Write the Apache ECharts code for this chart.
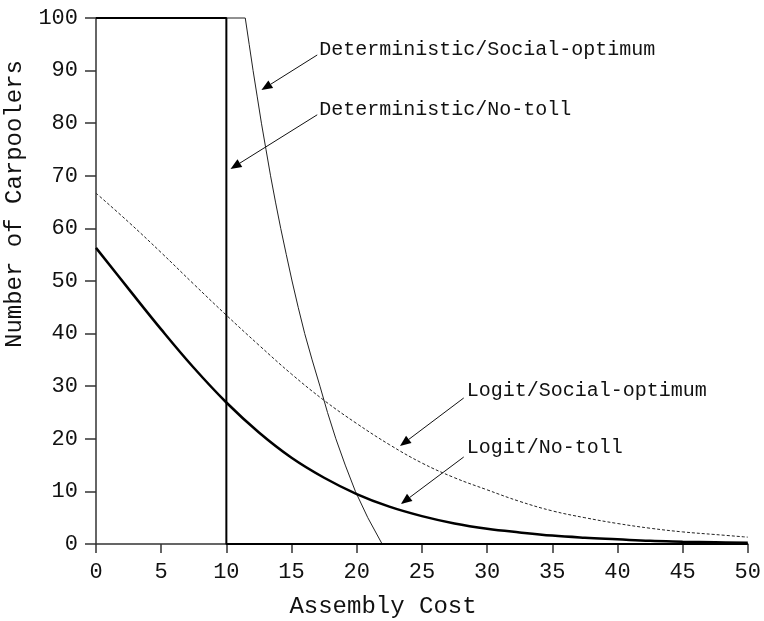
<!DOCTYPE html>
<html>
<head>
<meta charset="utf-8">
<script src="https://cdn.jsdelivr.net/npm/echarts@6/dist/echarts.min.js"></script>
<style>
html,body{margin:0;padding:0;background:#fff;}
#chart{width:764px;height:621px;}
</style>
</head>
<body>
<div id="chart"></div>
<script>
// ---- data ----
const xTicks = [0, 5, 10, 15, 20, 25, 30, 35, 40, 45, 50];
const yTicks = [0, 10, 20, 30, 40, 50, 60, 70, 80, 90, 100];

const logitCost = [0, 2.5, 5, 7.5, 10, 12.5, 15, 17.5, 20, 22.5, 25, 27.5, 30, 32.5, 35, 37.5, 40, 42.5, 45, 47.5, 50];
const logitNoToll = [56.3, 48.5, 40.8, 33.5, 26.9, 21.2, 16.4, 12.6, 9.5, 7.1, 5.3, 3.9, 2.9, 2.2, 1.6, 1.2, 0.9, 0.6, 0.45, 0.33, 0.24];
const logitSocial = [66.7, 61.2, 55.4, 49.4, 43.5, 37.8, 32.3, 27.3, 22.9, 18.9, 15.4, 12.6, 10.3, 8.1, 6.3, 5.0, 3.9, 3.0, 2.3, 1.8, 1.3];

const detSocialCost = [0, 11.45, 11.75, 12.05, 12.37, 12.69, 13.04, 13.39, 13.77, 14.17, 14.6, 15.04, 15.51, 16.01, 16.58, 17.18, 17.76, 18.4, 19.12, 19.9, 20.85, 21.95, 50];
const detSocialVal  = [100, 100, 95, 90, 85, 80, 75, 70, 65, 60, 55, 50, 45, 40, 35, 30, 25, 20, 15, 10, 5, 0, 0];

const detNoTollCost = [0, 10, 10, 50];
const detNoTollVal  = [100, 100, 0, 0];

const labels = ['Deterministic/Social-optimum', 'Deterministic/No-toll', 'Logit/Social-optimum', 'Logit/No-toll'];

// ---- annotation layout (data coordinates) ----
const labelAnchor = [[17.13, 94.0], [17.13, 82.6], [28.44, 29.1], [28.44, 18.4]];
const arrowFrom = [[16.97, 92.97], [16.97, 81.6], [28.21, 27.76], [28.21, 16.54]];
const arrowTo   = [[12.69, 86.3], [10.32, 71.3], [23.32, 18.63], [23.39, 7.6]];

const zip = (a, b) => a.map((v, i) => [v, b[i]]);
const MONO = '"Liberation Mono", "DejaVu Sans Mono", monospace';
const INK = '#111';

const chart = echarts.init(document.getElementById('chart'), null, {renderer: 'canvas'});
const option = {
  backgroundColor: '#fff',
  animation: false,
  grid: {left: 96, right: 14, top: 18, bottom: 77, containLabel: false},
  xAxis: {
    type: 'value', min: 0, max: 50, interval: 5,
    axisLine: {show: true, lineStyle: {color: '#333', width: 1.5}},
    axisTick: {show: true, inside: false, length: 9, lineStyle: {color: '#333', width: 1.5}},
    axisLabel: {color: INK, fontFamily: MONO, fontSize: 22, margin: 17,
      formatter: v => xTicks.includes(v) ? String(v) : ''},
    splitLine: {show: false}
  },
  yAxis: {
    type: 'value', min: 0, max: 100, interval: 10,
    axisLine: {show: true, lineStyle: {color: '#333', width: 1.5}},
    axisTick: {show: true, inside: false, length: 11, lineStyle: {color: '#333', width: 1.5}},
    axisLabel: {color: INK, fontFamily: MONO, fontSize: 22, margin: 18,
      formatter: v => yTicks.includes(v) ? String(v) : ''},
    splitLine: {show: false}
  },
  series: [
    {
      name: labels[0], type: 'line', data: zip(detSocialCost, detSocialVal),
      showSymbol: false, clip: false, smooth: false,
      lineStyle: {color: '#222', width: 1}, z: 3
    },
    {
      name: labels[1], type: 'line', data: zip(detNoTollCost, detNoTollVal),
      showSymbol: false, clip: false,
      lineStyle: {color: '#000', width: 2}, z: 4
    },
    {
      name: labels[2], type: 'line', data: zip(logitCost, logitSocial),
      showSymbol: false, clip: false, smooth: 0.4,
      lineStyle: {color: '#222', width: 1, type: [3, 2]}, z: 3
    },
    {
      name: labels[3], type: 'line', data: zip(logitCost, logitNoToll),
      showSymbol: false, clip: false, smooth: 0.4,
      lineStyle: {color: '#000', width: 2.5}, z: 4
    }
  ]
};
chart.setOption(option);

function buildGraphics() {
  const g = [];
  const txt = (s, x, y, size, align, rot) => ({
    type: 'text', x: x, y: y, rotation: rot || 0,
    style: {text: s, font: size + 'px ' + MONO, fill: INK, align: align, verticalAlign: 'middle'}
  });
  // axis titles
  g.push(txt('Assembly Cost', 383, 607, 24, 'center'));
  g.push(txt('Number of Carpoolers', 15, 204, 24, 'center', Math.PI / 2));
  for (let i = 0; i < labels.length; i++) {
    const p = chart.convertToPixel({gridIndex: 0}, labelAnchor[i]);
    g.push(txt(labels[i], p[0], p[1], 20, 'left'));
    const a = chart.convertToPixel({gridIndex: 0}, arrowFrom[i]);
    const b = chart.convertToPixel({gridIndex: 0}, arrowTo[i]);
    const dx = b[0] - a[0], dy = b[1] - a[1];
    const L = Math.hypot(dx, dy), ux = dx / L, uy = dy / L;
    const hl = 11, hw = 4.5;
    const base = [b[0] - ux * hl, b[1] - uy * hl];
    g.push({type: 'line', shape: {x1: a[0], y1: a[1], x2: base[0], y2: base[1]},
      style: {stroke: '#111', lineWidth: 1}});
    g.push({type: 'polygon', shape: {points: [b, [base[0] - uy * hw, base[1] + ux * hw], [base[0] + uy * hw, base[1] - ux * hw]]},
      style: {fill: '#000'}});
  }
  return g;
}
chart.setOption({graphic: {elements: buildGraphics()}});
</script>
</body>
</html>
